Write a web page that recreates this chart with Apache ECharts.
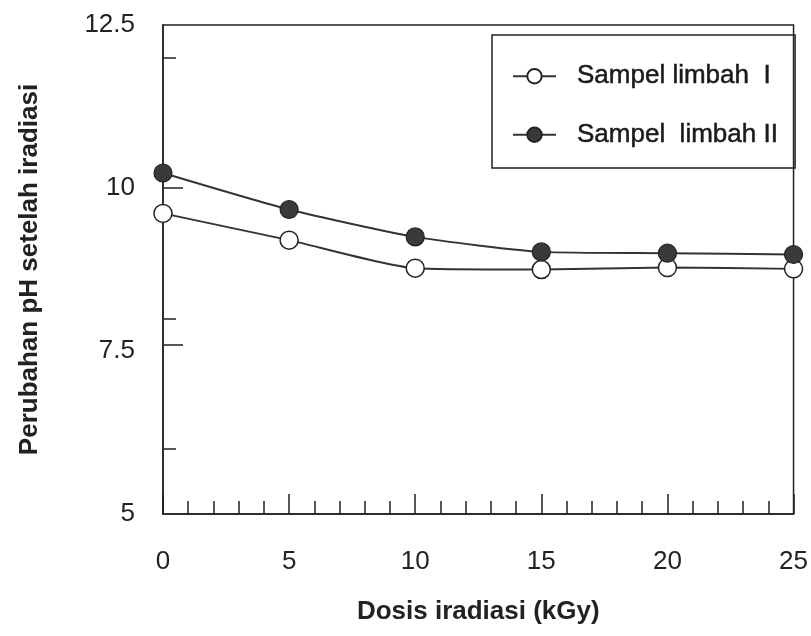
<!DOCTYPE html>
<html><head><meta charset="utf-8">
<script src="https://cdn.jsdelivr.net/npm/echarts@6/dist/echarts.min.js"></script>
<style>html,body{margin:0;padding:0;background:#fff}#c{width:811px;height:636px}</style>
</head><body><div id="c"></div>
<script>
const doses = [0, 5, 10, 15, 20, 25];
const sampleI = [9.61, 9.20, 8.77, 8.75, 8.78, 8.76];
const sampleII = [10.23, 9.67, 9.25, 9.02, 9.00, 8.98];
const yLabels = [5, 7.5, 10, 12.5];
const yTicksShort = [6, 8, 12];
const yTicksLong = [7.6, 10];
const seriesNames = ['Sampel limbah  I', 'Sampel  limbah II'];

const font = 'Liberation Sans, Arial, sans-serif';
const chart = echarts.init(document.getElementById('c'), null, {renderer: 'canvas'});
const lineStyle = {color: '#333', width: 1.9};
chart.setOption({
  animation: false,
  backgroundColor: '#fff',
  grid: {left: 163, right: 17, top: 25, bottom: 122, show: true, borderColor: '#222', borderWidth: 1.5, backgroundColor: 'transparent'},
  legend: {
    orient: 'vertical', left: 492, top: 35,
    padding: [28, 17, 20, 20], itemGap: 32,
    borderColor: '#222', borderWidth: 1.5,
    itemWidth: 43, itemHeight: 18,
    textStyle: {fontFamily: font, fontSize: 26, color: '#1a1a1a', padding: [0, 0, 0, 16],
      textBorderColor: '#1a1a1a', textBorderWidth: 0.5},
    data: seriesNames
  },
  xAxis: {
    type: 'value', min: 0, max: 25, interval: 5,
    name: 'Dosis iradiasi (kGy)', nameLocation: 'middle', nameGap: 85,
    nameTextStyle: {fontFamily: font, fontSize: 26, fontWeight: 'bold', color: '#222'},
    axisLine: {lineStyle: {color: '#222', width: 1.5}},
    axisTick: {inside: true, length: 20, lineStyle: {color: '#222', width: 1.5}},
    minorTick: {show: true, splitNumber: 5, length: 13, lineStyle: {color: '#222', width: 1.5}},
    axisLabel: {fontFamily: font, fontSize: 26, color: '#222', margin: 35},
    splitLine: {show: false}
  },
  yAxis: [{
    type: 'value', min: 5, max: 12.5,
    name: 'Perubahan pH setelah iradiasi', nameLocation: 'middle', nameGap: 120,
    nameTextStyle: {fontFamily: font, fontSize: 26, fontWeight: 'bold', color: '#222'},
    axisLine: {show: true, lineStyle: {color: '#222', width: 1.5}},
    axisTick: {show: true, inside: true, length: 13, customValues: yTicksShort, lineStyle: {color: '#222', width: 1.5}},
    axisLabel: {fontFamily: font, fontSize: 26, color: '#222', margin: 28, customValues: yLabels},
    splitLine: {show: false}
  }, {
    type: 'value', min: 5, max: 12.5, position: 'left',
    axisLine: {show: false},
    axisTick: {show: true, inside: true, length: 20, customValues: yTicksLong, lineStyle: {color: '#222', width: 1.5}},
    axisLabel: {show: false},
    splitLine: {show: false}
  }],
  series: [{
    name: seriesNames[0], type: 'line', smooth: 0.2, clip: false,
    data: doses.map((d, i) => [d, sampleI[i]]),
    symbol: 'circle', symbolSize: 18,
    lineStyle: lineStyle,
    itemStyle: {color: '#fff', borderColor: '#222', borderWidth: 1.5},
    z: 3
  }, {
    name: seriesNames[1], type: 'line', smooth: 0.2, clip: false,
    data: doses.map((d, i) => [d, sampleII[i]]),
    symbol: 'circle', symbolSize: 18,
    lineStyle: lineStyle,
    itemStyle: {color: '#3a3a3a', borderColor: '#222', borderWidth: 1.2},
    z: 4
  }]
});
</script></body></html>
